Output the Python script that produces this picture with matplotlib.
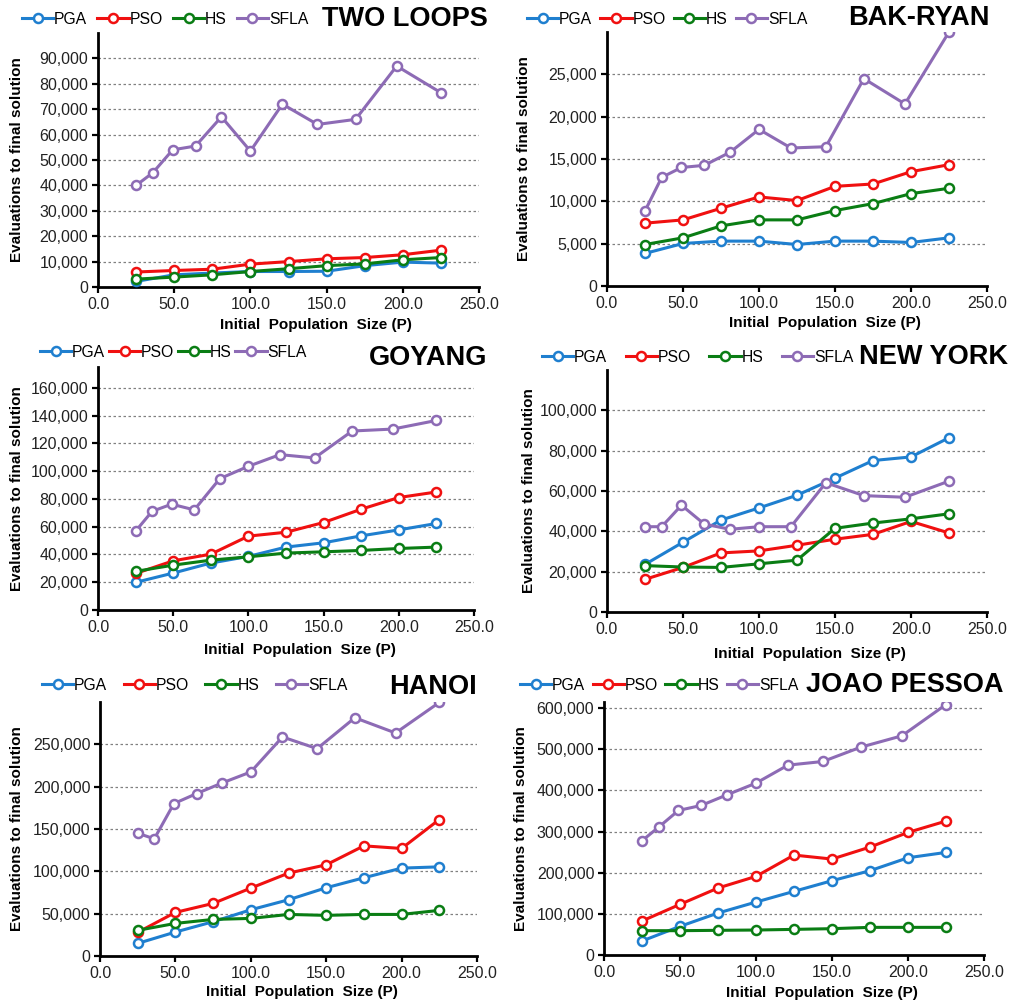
import numpy as np
import matplotlib
matplotlib.use("Agg")
import matplotlib.pyplot as plt
from matplotlib.ticker import FuncFormatter, FixedLocator
from matplotlib.transforms import blended_transform_factory

plt.rcParams['font.family'] = ['Liberation Sans', 'DejaVu Sans']

# population sizes
p_std = [25, 50, 75, 100, 125, 150, 175, 200, 225]
p_sfla = [25, 36, 49, 64, 81, 100, 121, 144, 169, 196, 225]

algos = ["PGA", "PSO", "HS", "SFLA"]
colors = {"PGA": "#1f7fcf", "PSO": "#f01010", "HS": "#0a7d14", "SFLA": "#8d6bb5"}

# evaluations to final solution
two_loops_pga = [2200, 4800, 5500, 6100, 6100, 6200, 8400, 9800, 9400]
two_loops_pso = [5900, 6500, 7000, 9000, 10000, 11100, 11600, 12700, 14500]
two_loops_hs = [3100, 3900, 4800, 6100, 7200, 8400, 9100, 10700, 11600]
two_loops_sfla = [40000, 45000, 54000, 55500, 67000, 53500, 72000, 64000, 66000, 87000, 76500]

bak_ryan_pga = [3850, 5020, 5300, 5300, 4900, 5300, 5300, 5140, 5690]
bak_ryan_pso = [7420, 7810, 9180, 10520, 10090, 11770, 12050, 13500, 14330]
bak_ryan_hs = [4900, 5690, 7100, 7810, 7810, 8910, 9730, 10910, 11540]
bak_ryan_sfla = [8870, 12830, 14000, 14250, 15800, 18500, 16300, 16450, 24490, 21500, 30000]

goyang_pga = [19900, 26600, 33800, 38600, 45300, 48400, 53400, 57700, 62300]
goyang_pso = [26300, 35400, 40200, 53200, 56000, 63000, 72600, 81000, 85000]
goyang_hs = [27800, 32300, 35900, 38300, 41000, 41900, 42900, 44300, 45300]
goyang_sfla = [56800, 71100, 76200, 72100, 94600, 103500, 111900, 109500, 128900, 130300, 136500]

new_york_pga = [23600, 34600, 45600, 51600, 57900, 66400, 75100, 76900, 86400]
new_york_pso = [16200, 22100, 29300, 30300, 33100, 36100, 38500, 44900, 39200]
new_york_hs = [23000, 22300, 22100, 23900, 25700, 41500, 44100, 46200, 48700]
new_york_sfla = [42300, 42300, 52950, 43600, 41000, 42300, 42300, 64100, 57700, 56900, 64900]

hanoi_pga = [14900, 28300, 40500, 54600, 66400, 80600, 92400, 103800, 105300]
hanoi_pso = [27900, 51500, 62100, 80200, 97900, 107700, 130100, 127000, 161200]
hanoi_hs = [30300, 38500, 43200, 44400, 49100, 48000, 49100, 49100, 53900]
hanoi_sfla = [145000, 138400, 180000, 191800, 204400, 217400, 258700, 244900, 281400, 263400, 299500]

joao_pga = [34000, 69600, 102000, 128700, 154700, 180600, 204900, 236400, 249400]
joao_pso = [82600, 123100, 162800, 191100, 242900, 233200, 262300, 298000, 325500]
joao_hs = [59100, 59100, 60000, 60700, 62300, 64000, 67200, 67200, 67200]
joao_sfla = [277700, 310900, 351400, 363600, 389500, 417800, 461500, 470400, 505300, 532800, 608900]

panels = [
    # name, series, ymax, ytick step, yticks top, axes box (l, r, t, b in px),
    # legend start (x, y), legend colsp, title (x right, y), ylabel x, xlabel (x, y)
    ("TWO LOOPS", [two_loops_pga, two_loops_pso, two_loops_hs, two_loops_sfla], 100000, 10000, 90000,
     (98, 479, 33, 287), (22, 19), 0.64, (488, 19), 17, (316, 325)),
    ("BAK-RYAN", [bak_ryan_pga, bak_ryan_pso, bak_ryan_hs, bak_ryan_sfla], 30000, 5000, 25000,
     (607, 987, 32, 286), (527, 19), 0.51, (990, 18), 524, (825, 323)),
    ("GOYANG", [goyang_pga, goyang_pso, goyang_hs, goyang_sfla], 175000, 20000, 160000,
     (98, 474, 367, 610), (40, 352), 0.23, (487, 358), 17, (300, 650)),
    ("NEW YORK", [new_york_pga, new_york_pso, new_york_hs, new_york_sfla], 120000, 20000, 100000,
     (607, 987, 370, 612), (542, 357), 1.17, (1008, 357), 529, (810, 654)),
    ("HANOI", [hanoi_pga, hanoi_pso, hanoi_hs, hanoi_sfla], 300000, 50000, 250000,
     (100, 477, 702, 956), (42, 685), 1.04, (477, 687), 17, (302, 992)),
    ("JOAO PESSOA", [joao_pga, joao_pso, joao_hs, joao_sfla], 615000, 100000, 600000,
     (604, 984, 702, 955), (520, 685), 0.47, (1003, 685), 521, (822, 993)),
]

W, H = 1011, 1005
fig = plt.figure(figsize=(W / 100, H / 100), dpi=100)

for name, series, ymax, ystep, ytop, box, leg_xy, colsp, title_xy, ylab_x, xlab_xy in panels:
    l, r, t, b = box
    ax = fig.add_axes([l / W, 1 - b / H, (r - l) / W, (b - t) / H])
    for algo, vals in zip(algos, series):
        xs = p_sfla if algo == "SFLA" else p_std
        ax.plot(xs, vals, color=colors[algo], lw=2.2, marker='o', ms=6.5,
                mfc='white', mec=colors[algo], mew=1.8, label=algo, zorder=3)

    ax.set_xlim(0, 250)
    ax.set_ylim(0, ymax)
    ax.xaxis.set_major_locator(FixedLocator(np.arange(0, 251, 50)))
    ax.yaxis.set_major_locator(FixedLocator(np.arange(0, ytop + 1, ystep)))
    ax.xaxis.set_major_formatter(FuncFormatter(lambda v, p: f"{v:.1f}"))
    ax.yaxis.set_major_formatter(FuncFormatter(lambda v, p: f"{v:,.0f}"))
    for yv in np.arange(ystep, ytop + 1, ystep):
        ax.axhline(yv, color='#808080', lw=0.9, ls=(0, (2, 2)), zorder=1)

    for s in ['top', 'right']:
        ax.spines[s].set_visible(False)
    for s in ['left', 'bottom']:
        ax.spines[s].set_linewidth(2.0)
    ax.tick_params(direction='out', length=4, width=1.6, labelsize=11.5, pad=3,
                   labelcolor='#222222')

    ax.set_ylabel("Evaluations to final solution", fontsize=11, fontweight='bold')
    ax.set_xlabel("Initial  Population  Size (P)", fontsize=11, fontweight='bold')
    ax.yaxis.set_label_coords(ylab_x / W, 0.5,
                              transform=blended_transform_factory(fig.transFigure, ax.transAxes))
    ax.xaxis.set_label_coords(xlab_xy[0] / W, 1 - xlab_xy[1] / H, transform=fig.transFigure)
    ax.xaxis.label.set_va('center')
    ax.yaxis.label.set_va('center')

    ax.legend(loc='center left', bbox_to_anchor=(leg_xy[0] / W, 1 - leg_xy[1] / H),
              bbox_transform=fig.transFigure, ncol=4, frameon=False, fontsize=11.3,
              handlelength=2.0, handletextpad=0.05, columnspacing=colsp, borderpad=0,
              borderaxespad=0)

    fig.text(title_xy[0] / W, 1 - title_xy[1] / H, name, ha='right', va='center',
             fontsize=19.5, fontweight='bold')

fig.savefig("out.png", dpi=100)
